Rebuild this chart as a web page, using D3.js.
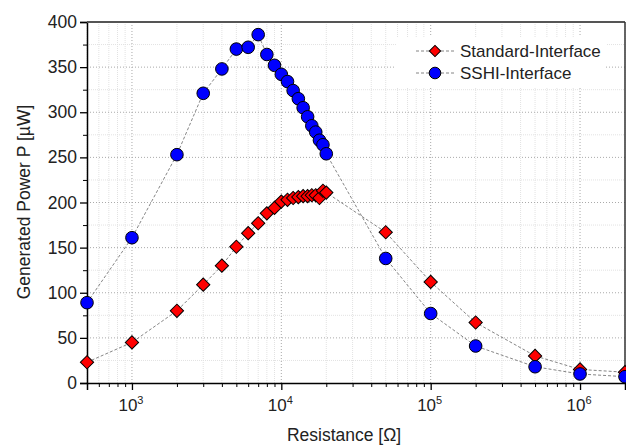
<!DOCTYPE html>
<html>
<head>
<meta charset="utf-8">
<script src="https://cdn.jsdelivr.net/npm/d3@7"></script>
<style>
body { margin: 0; background: #fff; }
text { font-family: "Liberation Sans", Arial, sans-serif; fill: #222; }
</style>
</head>
<body>
<svg id="chart" width="626" height="446"></svg>
<script>
const svg = d3.select('#chart')
const plotLeft = 87, plotRight = 625, plotTop = 22, plotBottom = 383

// data
const resistance = [500, 1000, 2000, 3000, 4000, 5000, 6000, 7000, 8000, 9000,
  10000, 11000, 12000, 13000, 14000, 15000, 16000, 17000, 18000, 19000, 20000,
  50000, 100000, 200000, 500000, 1000000, 2000000]
const standardP = [23, 45, 80, 109, 130, 151, 166, 177, 188, 194,
  201, 203, 205, 206, 207, 207, 208, 208, 205, 213, 211,
  167, 112, 67, 30, 15, 12]
const sshiP = [89, 161, 253, 321, 348, 370, 372, 386, 364, 352,
  342, 334, 324, 315, 305, 295, 285, 278, 269, 264, 254,
  138, 77, 41, 18, 10, 7]
const yTicks = [0, 50, 100, 150, 200, 250, 300, 350, 400]
const xMajor = [1e3, 1e4, 1e5, 1e6]

const x = d3.scaleLog().domain([500, 2e6]).range([plotLeft, plotRight])
const y = d3.scaleLinear().domain([0, 400]).range([plotBottom, plotTop])

// minor values
const xMinor = []
for (let e = 2; e <= 6; e++) for (let m = 2; m <= 9; m++) {
  const v = m * Math.pow(10, e)
  if (v >= 500 && v <= 2e6) xMinor.push(v)
}
const yMinor = d3.range(25, 400, 50)

// grid
const grid = svg.append('g')
grid.selectAll('line.xmin').data(xMinor).enter().append('line')
  .attr('x1', d => x(d)).attr('x2', d => x(d)).attr('y1', plotTop).attr('y2', plotBottom)
  .attr('stroke', '#e2e2e2').attr('stroke-width', 1).attr('stroke-dasharray', '1,1')
grid.selectAll('line.ymin').data(yMinor).enter().append('line')
  .attr('x1', plotLeft).attr('x2', plotRight).attr('y1', d => y(d)).attr('y2', d => y(d))
  .attr('stroke', '#e2e2e2').attr('stroke-width', 1).attr('stroke-dasharray', '1,1')
grid.selectAll('line.xmaj').data(xMajor).enter().append('line')
  .attr('x1', d => x(d)).attr('x2', d => x(d)).attr('y1', plotTop).attr('y2', plotBottom)
  .attr('stroke', '#aaa').attr('stroke-width', 1).attr('stroke-dasharray', '1,2')
grid.selectAll('line.ymaj').data(yTicks.slice(1, -1)).enter().append('line')
  .attr('x1', plotLeft).attr('x2', plotRight).attr('y1', d => y(d)).attr('y2', d => y(d))
  .attr('stroke', '#aaa').attr('stroke-width', 1).attr('stroke-dasharray', '1,2')

// legend box (hides grid)
svg.append('rect').attr('x', 396).attr('y', 37).attr('width', 210).attr('height', 51).attr('fill', '#fff')

// connecting lines
const line = d3.line().x(d => x(d[0])).y(d => y(d[1]))
const stdPts = resistance.map((r, i) => [r, standardP[i]])
const sshiPts = resistance.map((r, i) => [r, sshiP[i]])
;[stdPts, sshiPts].forEach(pts => {
  svg.append('path').attr('d', line(pts)).attr('fill', 'none')
    .attr('stroke', '#777').attr('stroke-width', 0.9).attr('stroke-dasharray', '3,2')
})

// axes
const xAxis = svg.append('g').attr('transform', `translate(0,${plotBottom})`)
  .call(d3.axisBottom(x).tickValues(xMajor).tickSize(7).tickFormat(''))
xAxis.selectAll('.domain').attr('stroke', '#000').attr('stroke-width', 1.5)
xAxis.selectAll('.tick line').attr('stroke', '#000').attr('stroke-width', 1.3)
svg.append('g').attr('transform', `translate(0,${plotBottom})`)
  .call(d3.axisBottom(x).tickValues(xMinor).tickSize(4).tickFormat(''))
  .call(g => g.select('.domain').remove())
  .selectAll('.tick line').attr('stroke', '#000').attr('stroke-width', 1)

xMajor.forEach(v => {
  const t = svg.append('text').attr('x', x(v) - 1).attr('y', 411).attr('text-anchor', 'middle')
    .attr('font-size', '17px')
  t.append('tspan').text('10')
  t.append('tspan').text(Math.round(Math.log10(v))).attr('font-size', '11px').attr('dy', -7)
})

const yAxis = svg.append('g').attr('transform', `translate(${plotLeft},0)`)
  .call(d3.axisLeft(y).tickValues(yTicks).tickSize(7).tickPadding(3))
yAxis.selectAll('.domain').attr('stroke', '#000').attr('stroke-width', 1.5)
yAxis.selectAll('.tick line').attr('stroke', '#000').attr('stroke-width', 1.3)
yAxis.selectAll('.tick text').attr('font-size', '17.5px').attr('fill', '#222')
  .style('font-family', '"Liberation Sans", Arial, sans-serif')
svg.append('g').attr('transform', `translate(${plotLeft},0)`)
  .call(d3.axisLeft(y).tickValues(yMinor).tickSize(4).tickFormat(''))
  .call(g => g.select('.domain').remove())
  .selectAll('.tick line').attr('stroke', '#000').attr('stroke-width', 1)

// top and right frame
svg.append('line').attr('x1', plotLeft).attr('x2', plotRight).attr('y1', plotTop).attr('y2', plotTop)
  .attr('stroke', '#555').attr('stroke-width', 2)
svg.append('line').attr('x1', plotRight).attr('x2', plotRight).attr('y1', plotTop).attr('y2', plotBottom)
  .attr('stroke', '#333').attr('stroke-width', 1.5)

// markers
svg.selectAll('path.std').data(stdPts).enter().append('path')
  .attr('class', 'std')
  .attr('d', d3.symbol().type(d3.symbolSquare).size(88))
  .attr('transform', d => `translate(${x(d[0])},${y(d[1])}) rotate(45)`)
  .attr('fill', '#ff0000').attr('stroke', '#000').attr('stroke-width', 1)
svg.selectAll('circle.sshi').data(sshiPts).enter().append('circle')
  .attr('class', 'sshi')
  .attr('cx', d => x(d[0])).attr('cy', d => y(d[1])).attr('r', 6.3)
  .attr('fill', '#0000ff').attr('stroke', '#000').attr('stroke-width', 1)

// legend
const legend = [
  { name: 'Standard-Interface', type: 'std', yy: 51 },
  { name: 'SSHI-Interface', type: 'sshi', yy: 73 }
]
legend.forEach(l => {
  svg.append('line').attr('x1', 416).attr('x2', 454).attr('y1', l.yy).attr('y2', l.yy)
    .attr('stroke', '#777').attr('stroke-width', 0.9).attr('stroke-dasharray', '3,2')
  if (l.type === 'std') {
    svg.append('path').attr('d', d3.symbol().type(d3.symbolSquare).size(64))
      .attr('transform', `translate(435,${l.yy}) rotate(45)`)
      .attr('fill', '#ff0000').attr('stroke', '#000').attr('stroke-width', 1)
  } else {
    svg.append('circle').attr('cx', 435).attr('cy', l.yy).attr('r', 5.8)
      .attr('fill', '#0000ff').attr('stroke', '#000').attr('stroke-width', 1)
  }
  svg.append('text').attr('x', 460).attr('y', l.yy + 6).attr('font-size', '17px').text(l.name)
})

// axis titles
svg.append('text').attr('x', 344).attr('y', 441).attr('text-anchor', 'middle')
  .attr('font-size', '17.5px').text('Resistance [Ω]')
svg.append('text').attr('transform', 'translate(30,202) rotate(-90)').attr('text-anchor', 'middle')
  .attr('font-size', '17.5px').text('Generated Power P [µW]')
</script>
</body>
</html>
